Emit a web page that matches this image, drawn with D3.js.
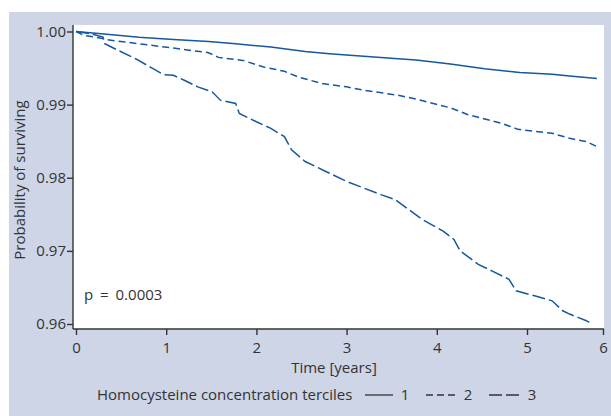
<!DOCTYPE html>
<html>
<head>
<meta charset="utf-8">
<script src="https://cdn.jsdelivr.net/npm/d3@7"></script>
<style>
  body { margin: 0; background: #fff; }
  svg text { font-family: "Open Sans", "Noto Sans", sans-serif; fill: #333; }
</style>
</head>
<body>
<div id="chart"></div>
<script>
// survival curves
let time1 = [0, 0.28, 0.70, 1.08, 1.47, 1.77, 2.16, 2.54, 2.81, 3.19, 3.57, 3.77, 4.15, 4.53, 4.92, 5.33, 5.56, 5.92];
let surv1 = [1.0, 0.99968, 0.99922, 0.99891, 0.99864, 0.99832, 0.99787, 0.99728, 0.99696, 0.99660, 0.99628, 0.99610, 0.99556, 0.99492, 0.99438, 0.99415, 0.99392, 0.99356];

let time2 = [0, 0.09, 0.28, 0.32, 0.70, 1.08, 1.47, 1.58, 1.85, 2.08, 2.31, 2.46, 2.73, 3.00, 3.19, 3.57, 3.77, 4.15, 4.34, 4.72, 4.90, 5.33, 5.56, 5.78, 5.92];
let surv2 = [1.0, 0.99946, 0.99909, 0.99891, 0.99832, 0.99773, 0.99710, 0.99646, 0.99605, 0.99515, 0.99456, 0.99379, 0.99288, 0.99243, 0.99197, 0.99129, 0.99075, 0.98957, 0.98866, 0.98744, 0.98662, 0.98608, 0.98540, 0.98494, 0.98426];

let time3 = [0, 0.165, 0.30, 0.318, 0.47, 0.66, 0.82, 0.97, 1.08, 1.20, 1.35, 1.51, 1.60, 1.77, 1.81, 2.00, 2.16, 2.31, 2.39, 2.54, 2.77, 3.00, 3.19, 3.38, 3.54, 3.69, 3.84, 4.07, 4.19, 4.26, 4.46, 4.61, 4.80, 4.88, 5.10, 5.33, 5.47, 5.56, 5.78, 5.83];
let surv3 = [1.0, 0.99968, 0.99923, 0.99832, 0.99741, 0.99628, 0.99515, 0.99410, 0.99401, 0.99333, 0.99243, 0.99175, 0.99061, 0.99016, 0.98880, 0.98766, 0.98676, 0.98562, 0.98381, 0.98222, 0.98086, 0.97950, 0.97859, 0.97769, 0.97701, 0.97565, 0.97429, 0.97270, 0.97156, 0.96998, 0.96816, 0.96726, 0.96612, 0.96454, 0.96385, 0.96317, 0.96181, 0.96136, 0.96045, 0.96014];

let xTicks = [0, 1, 2, 3, 4, 5, 6];
let yTicks = [0.96, 0.97, 0.98, 0.99, 1.00];
let terciles = ["1", "2", "3"];
let dashes = [null, "7,4", "13,4"];

(function() {
  let W = 611, H = 416;
  let ink = "#1657a0";
  let fs = 15;

  let svg = d3.select("#chart").append("svg")
    .attr("width", W).attr("height", H);

  // grey-blue panel round the plot
  svg.append("rect").attr("x", 9).attr("y", 12)
    .attr("width", W - 9).attr("height", H - 12)
    .attr("fill", "#ced5e6");

  let plot = { left: 73, right: 604, top: 25, bottom: 329 };

  svg.append("rect")
    .attr("x", plot.left).attr("y", plot.top)
    .attr("width", plot.right - plot.left)
    .attr("height", plot.bottom - plot.top)
    .attr("fill", "#fff");

  // the last year is squeezed in the source figure
  let x = d3.scaleLinear().domain([0, 5, 6]).range([76, 527, 603]);
  let y = d3.scaleLinear().domain([0.96, 1.0]).range([324, 31.5]);

  let xAxis = d3.axisBottom(x).tickValues(xTicks).tickFormat(d3.format("d"))
    .tickSize(6).tickSizeOuter(0);
  let yAxis = d3.axisLeft(y).tickValues(yTicks).tickFormat(d3.format(".2f"))
    .tickSize(6).tickSizeOuter(0);

  let gx = svg.append("g")
    .attr("transform", "translate(0," + plot.bottom + ")")
    .call(xAxis);
  gx.select(".domain").attr("d", "M" + plot.left + ",0H" + plot.right);

  let gy = svg.append("g")
    .attr("transform", "translate(" + plot.left + ",0)")
    .call(yAxis);
  gy.select(".domain").attr("d", "M0," + plot.top + "V" + plot.bottom);

  [gx, gy].forEach(function(g) {
    g.selectAll(".domain, line").attr("stroke", "#333").attr("stroke-width", 1.4);
    g.selectAll("text").attr("font-size", fs).attr("fill", "#333")
      .style("font-family", "'Open Sans', 'Noto Sans', sans-serif");
  });
  gx.selectAll("text").attr("dy", "1.0em");
  gy.selectAll("text").attr("x", -7);

  let line = d3.line()
    .x(d => x(d[0]))
    .y(d => y(d[1]));

  let series = [
    d3.zip(time1, surv1),
    d3.zip(time2, surv2),
    d3.zip(time3, surv3)
  ];

  svg.append("g").selectAll("path")
    .data(series)
    .join("path")
    .attr("d", line)
    .attr("fill", "none")
    .attr("stroke", ink)
    .attr("stroke-width", 1.5)
    .attr("stroke-dasharray", (d, i) => dashes[i]);

  svg.append("text")
    .attr("x", 84).attr("y", 300)
    .attr("font-size", fs)
    .attr("word-spacing", 3)
    .text("p = 0.0003");

  svg.append("text")
    .attr("x", 334).attr("y", 373)
    .attr("text-anchor", "middle")
    .attr("font-size", fs)
    .text("Time [years]");

  svg.append("text")
    .attr("transform", "translate(25,180) rotate(-90)")
    .attr("text-anchor", "middle")
    .attr("font-size", fs)
    .text("Probability of surviving");

  // legend
  let legend = svg.append("g");
  legend.append("text")
    .attr("x", 97).attr("y", 400)
    .attr("font-size", fs)
    .text("Homocysteine concentration terciles");

  let legX = [365, 426, 489];
  let legW = [28, 30, 31];
  terciles.forEach(function(label, i) {
    legend.append("line")
      .attr("x1", legX[i]).attr("x2", legX[i] + legW[i])
      .attr("y1", 395).attr("y2", 395)
      .attr("stroke", "#333").attr("stroke-width", 1.3)
      .attr("stroke-dasharray", dashes[i]);
    legend.append("text")
      .attr("x", legX[i] + legW[i] + 12).attr("y", 400)
      .attr("text-anchor", "middle")
      .attr("font-size", fs)
      .text(label);
  });
})();
</script>
</body>
</html>
